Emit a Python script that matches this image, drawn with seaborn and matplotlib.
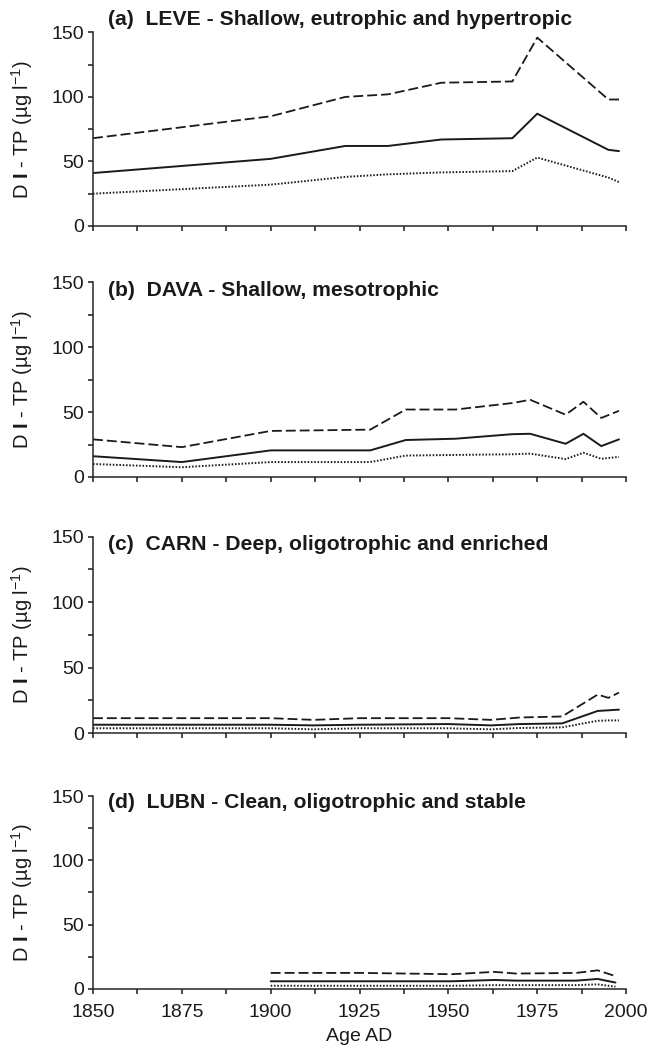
import matplotlib
matplotlib.use("Agg")
import matplotlib.pyplot as plt
from matplotlib.ticker import MultipleLocator
import seaborn as sns

# %% data (DI-TP, ug/l)
ages_a = [1850, 1900, 1921, 1933, 1948, 1968, 1975, 1995, 1998]
leve_upper = [68, 85, 100, 102, 111, 112, 146, 98, 98]
leve_mid = [41, 52, 62, 62, 67, 68, 87, 59, 58]
leve_lower = [25, 32, 38, 40, 41.5, 42.5, 53, 37.5, 34]

ages_b = [1850, 1875, 1900, 1928, 1938, 1952, 1968, 1973, 1983, 1988, 1993, 1998]
dava_upper = [29, 23, 35.5, 36.5, 52, 52, 57, 59.5, 48, 58, 45.5, 51]
dava_mid = [16, 11.5, 20.5, 20.5, 28.5, 29.5, 33, 33.3, 25.6, 33.3, 23.8, 29]
dava_lower = [10, 7.5, 11.5, 11.5, 16.5, 17, 17.5, 18, 13.8, 18.7, 14, 15.5]

ages_c = [1850, 1900, 1912, 1925, 1950, 1962, 1970, 1982, 1992, 1995, 1998]
carn_upper = [11.5, 11.5, 10.2, 11.5, 11.5, 10.2, 12, 12.8, 29.5, 27, 31]
carn_mid = [6.5, 6.5, 6, 6.5, 7, 6, 7, 7.5, 17, 17.5, 18]
carn_lower = [3.8, 3.8, 3, 3.8, 3.8, 3, 4, 4.5, 9.5, 9.8, 9.8]

ages_d = [1900, 1925, 1951, 1963, 1969, 1986, 1992, 1997]
lubn_upper = [12.5, 12.5, 11.5, 13.3, 12, 12.5, 14.5, 10]
lubn_mid = [6, 6, 6, 7, 6.5, 6.5, 7.8, 5]
lubn_lower = [2.5, 2.5, 2.5, 3, 3, 3, 3.6, 1.8]

titles = ["(a)  LEVE - Shallow, eutrophic and hypertropic",
          "(b)  DAVA - Shallow, mesotrophic",
          "(c)  CARN - Deep, oligotrophic and enriched",
          "(d)  LUBN - Clean, oligotrophic and stable"]

panels = [(ages_a, leve_upper, leve_mid, leve_lower),
          (ages_b, dava_upper, dava_mid, dava_lower),
          (ages_c, carn_upper, carn_mid, carn_lower),
          (ages_d, lubn_upper, lubn_mid, lubn_lower)]

# %% style
sns.set_style("ticks")
plt.rcParams['font.family'] = ['Liberation Sans', 'DejaVu Sans']
plt.rcParams['mathtext.fontset'] = 'custom'
plt.rcParams['mathtext.rm'] = 'Liberation Sans'
plt.rcParams['mathtext.bf'] = 'Liberation Sans:bold'
plt.rcParams['axes.linewidth'] = 1.1

fig = plt.figure(figsize=(6.47, 10.46), dpi=100)
# [bottom, top] of each panel in figure fraction
rows = [(0.784, 0.969), (0.544, 0.730), (0.299, 0.487), (0.0545, 0.239)]
title_y = [1.067, 0.96, 0.96, 0.965]
ink = '#1a1a1a'

for i, ((ages, upper, mid, lower), (b, t)) in enumerate(zip(panels, rows)):
    ax = fig.add_axes([0.1437, b, 0.824, t - b])
    sns.lineplot(x=ages, y=upper, ax=ax, color=ink, linewidth=1.3,
                 linestyle=(0, (5.5, 2.2)))
    sns.lineplot(x=ages, y=mid, ax=ax, color=ink, linewidth=1.4)
    sns.lineplot(x=ages, y=lower, ax=ax, color=ink, linewidth=1.4,
                 linestyle=(0, (0.8, 0.9)))
    ax.set_xlim(1850, 2000)
    ax.set_ylim(0, 150)
    ax.xaxis.set_major_locator(MultipleLocator(25))
    ax.xaxis.set_minor_locator(MultipleLocator(12.5))
    ax.yaxis.set_major_locator(MultipleLocator(50))
    ax.yaxis.set_minor_locator(MultipleLocator(25))
    ax.tick_params(which='both', direction='out', length=3.6, width=1.1,
                   labelsize=14, color=ink, labelcolor=ink, pad=3)
    ax.tick_params(axis='x', pad=7.5)
    sns.despine(ax=ax)
    ax.set_ylabel(r"D $\mathbf{I}$ - TP (µg l$^{-1}$)", fontsize=14.5, color=ink)
    ax.yaxis.set_label_coords(-0.108, 0.5)
    ax.text(0.028, title_y[i], titles[i], transform=ax.transAxes, va='center',
            ha='left', fontsize=15.2, fontweight='bold', color=ink)
    if i < 3:
        ax.set_xticklabels([])
    else:
        ax.set_xlabel("Age AD", fontsize=14, labelpad=5, color=ink)

fig.savefig("out.png", dpi=100)
